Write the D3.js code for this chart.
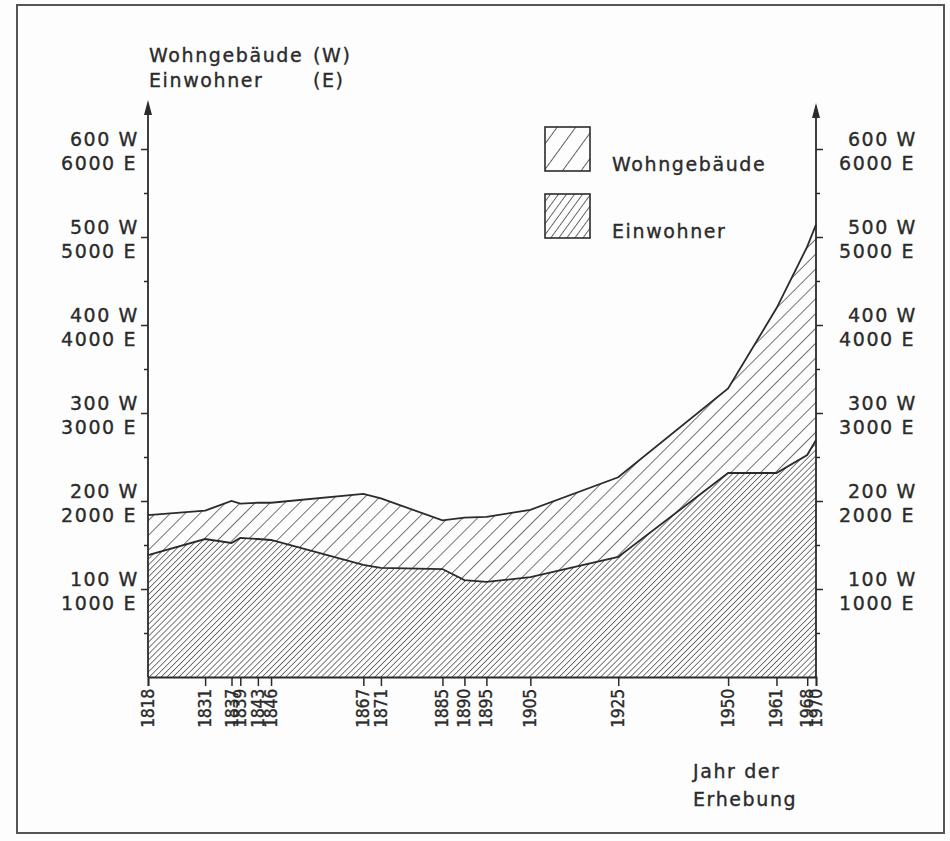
<!DOCTYPE html>
<html>
<head>
<meta charset="utf-8">
<script src="https://cdn.jsdelivr.net/npm/d3@7"></script>
<style>
  body { margin: 0; background: #fff; }
  svg { display: block; }
  text { font-family: "DejaVu Sans", sans-serif; fill: #2b2b2b; stroke: #2b2b2b; stroke-width: 0.35px; }
  .lbl { font-size: 19px; letter-spacing: 1.6px; }
  .yr { font-family: "DejaVu Sans Condensed", "Liberation Sans Narrow", sans-serif; font-stretch: condensed; font-size: 17.5px; letter-spacing: -0.3px; }
</style>
</head>
<body>
<div class="chart-container"></div>
<script>
// Erhebungsjahre
var years = [1818, 1831, 1837, 1839, 1843, 1846, 1867, 1871, 1885, 1890, 1895, 1905, 1925, 1950, 1961, 1968, 1970];
// Wohngebäude (W)
var wohngebaeude = [184, 189, 200, 197, 198, 198, 208, 203, 178, 181, 182, 190, 227, 328, 419, 489, 514];
// Einwohner (E)
var einwohner = [1386, 1568, 1523, 1580, 1568, 1557, 1273, 1239, 1227, 1102, 1080, 1136, 1364, 2318, 2318, 2523, 2693];
// Achsenbeschriftung
var tickW = [100, 200, 300, 400, 500, 600];
var tickMinor = [50, 150, 250, 350, 450, 550];
var legendLabels = ["Wohngebäude", "Einwohner"];

var width = 950, height = 841;
var ink = "#2b2b2b";

var x = d3.scaleLinear().domain([1818, 1970]).range([148, 816]);
var yW = d3.scaleLinear().domain([0, 600]).range([677, 149]);
var yE = d3.scaleLinear().domain([0, 6000]).range([677, 149]);

var data = years.map(function(yr, i) {
  return {year: yr, w: wohngebaeude[i], e: einwohner[i]};
});

var svg = d3.select(".chart-container").append("svg")
    .attr("width", width)
    .attr("height", height);

svg.append("rect").attr("width", width).attr("height", height).attr("fill", "#fdfdfd");

// hatch patterns
var defs = svg.append("defs");
function hatch(id, spacing, angle, sw) {
  var p = defs.append("pattern")
      .attr("id", id)
      .attr("patternUnits", "userSpaceOnUse")
      .attr("width", spacing)
      .attr("height", spacing)
      .attr("patternTransform", "rotate(" + angle + ")");
  p.append("line")
      .attr("x1", 0).attr("y1", 0)
      .attr("x2", 0).attr("y2", spacing)
      .attr("stroke", ink)
      .attr("stroke-width", sw);
}
hatch("sparse", 10.5, 45, 1.3);
hatch("dense", 4.2, 45, 1.25);
hatch("sparseLeg", 15, 36, 1.5);
hatch("denseLeg", 6.5, 36, 1.4);

// frame
svg.append("rect")
    .attr("x", 17).attr("y", 5)
    .attr("width", 927).attr("height", 828)
    .attr("fill", "none")
    .attr("stroke", "#555")
    .attr("stroke-width", 2);

var areaW = d3.area()
    .x(function(d) { return x(d.year); })
    .y0(yW(0))
    .y1(function(d) { return yW(d.w); });

var areaE = d3.area()
    .x(function(d) { return x(d.year); })
    .y0(yE(0))
    .y1(function(d) { return yE(d.e); });

var lineW = d3.line().x(function(d) { return x(d.year); }).y(function(d) { return yW(d.w); });
var lineE = d3.line().x(function(d) { return x(d.year); }).y(function(d) { return yE(d.e); });

svg.append("path").datum(data).attr("d", areaW).attr("fill", "url(#sparse)");
svg.append("path").datum(data).attr("d", areaE).attr("fill", "#fdfdfd");
svg.append("path").datum(data).attr("d", areaE).attr("fill", "url(#dense)");
svg.append("path").datum(data).attr("d", lineW).attr("fill", "none").attr("stroke", ink).attr("stroke-width", 1.8);
svg.append("path").datum(data).attr("d", lineE).attr("fill", "none").attr("stroke", ink).attr("stroke-width", 1.8);

// y axes
function yAxis(xpos, dir, top) {
  var g = svg.append("g");
  g.append("line")
      .attr("x1", xpos).attr("x2", xpos)
      .attr("y1", yW(0)).attr("y2", top + 10)
      .attr("stroke", ink).attr("stroke-width", 1.8);
  g.append("path")
      .attr("d", "M" + xpos + "," + top + "L" + (xpos - 4) + "," + (top + 15) + "L" + (xpos + 4) + "," + (top + 15) + "Z")
      .attr("fill", ink);
  var major = dir < 0 ? d3.axisLeft(yW) : d3.axisRight(yW);
  g.append("g")
      .attr("transform", "translate(" + xpos + ",0)")
      .call(major.tickValues(tickW).tickSize(7).tickFormat(""))
      .call(function(s) { s.select(".domain").remove(); s.selectAll("line").attr("stroke", ink).attr("stroke-width", 1.5); });
  var minor = dir < 0 ? d3.axisLeft(yW) : d3.axisRight(yW);
  g.append("g")
      .attr("transform", "translate(" + xpos + ",0)")
      .call(minor.tickValues(tickMinor).tickSize(4).tickFormat(""))
      .call(function(s) { s.select(".domain").remove(); s.selectAll("line").attr("stroke", ink).attr("stroke-width", 1.5); });
  var lx = dir < 0 ? 139 : 917;
  tickW.forEach(function(v) {
    g.append("text").attr("class", "lbl").attr("text-anchor", "end")
        .attr("x", lx).attr("y", yW(v) - 3).text(v + " W");
    g.append("text").attr("class", "lbl").attr("text-anchor", "end")
        .attr("x", lx - 2).attr("y", yW(v) + 21).text(v * 10 + " E");
  });
}
yAxis(x(1818), -1, 100);
yAxis(x(1970), 1, 103);

// x axis
var xg = svg.append("g").attr("transform", "translate(0," + yW(0) + ")");
xg.call(d3.axisBottom(x).tickValues(years).tickSize(9).tickFormat(""))
  .call(function(s) {
    s.select(".domain").attr("stroke", ink).attr("stroke-width", 1.8);
    s.selectAll("line").attr("stroke", ink).attr("stroke-width", 1.5);
  });
xg.selectAll(".yl").data(years).enter().append("text")
    .attr("class", "yr")
    .attr("text-anchor", "end")
    .attr("transform", function(d) { return "translate(" + (x(d) + 6) + ",12) rotate(-90)"; })
    .text(function(d) { return d; });

// header
svg.append("text").attr("class", "lbl").attr("x", 149).attr("y", 62).text("Wohngebäude");
svg.append("text").attr("class", "lbl").attr("x", 313).attr("y", 62).text("(W)");
svg.append("text").attr("class", "lbl").attr("x", 149).attr("y", 87).text("Einwohner");
svg.append("text").attr("class", "lbl").attr("x", 313).attr("y", 87).text("(E)");

// x title
svg.append("text").attr("class", "lbl").attr("x", 693).attr("y", 778).text("Jahr der");
svg.append("text").attr("class", "lbl").attr("x", 693).attr("y", 806).text("Erhebung");

// legend
var leg = svg.append("g");
[["sparseLeg", 127], ["denseLeg", 194]].forEach(function(p, i) {
  leg.append("rect")
      .attr("x", 545).attr("y", p[1]).attr("width", 45).attr("height", 44)
      .attr("fill", "url(#" + p[0] + ")")
      .attr("stroke", ink).attr("stroke-width", 1.6);
  leg.append("text").attr("class", "lbl")
      .attr("x", 612).attr("y", p[1] + 44)
      .text(legendLabels[i]);
});
</script>
</body>
</html>
